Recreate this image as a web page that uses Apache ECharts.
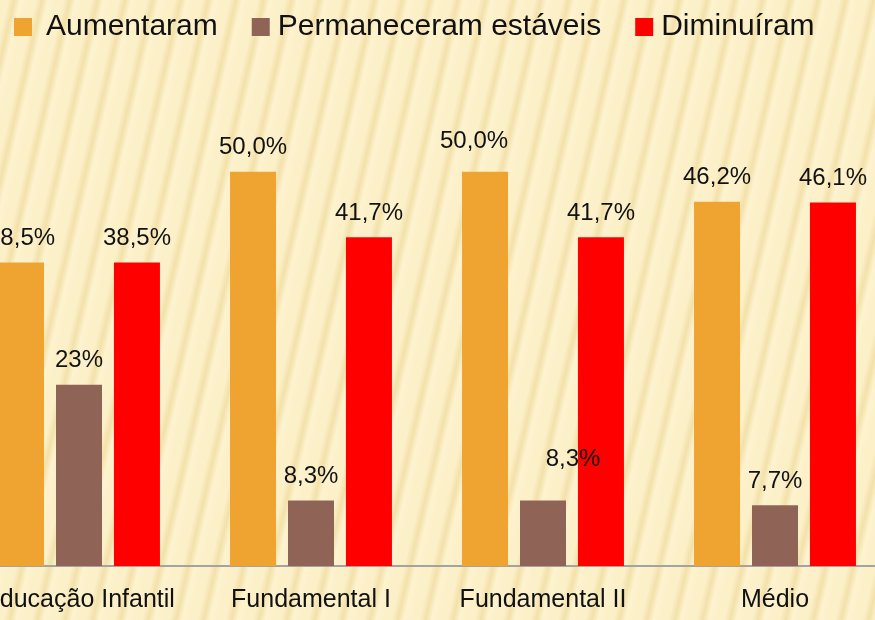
<!DOCTYPE html>
<html>
<head>
<meta charset="utf-8">
<script src="https://cdn.jsdelivr.net/npm/echarts@6/dist/echarts.min.js"></script>
<style>
  html, body { margin: 0; padding: 0; }
  #wrap {
    position: relative; overflow: hidden;
    width: 875px; height: 620px;
    background: repeating-linear-gradient(103deg, #fcf0c9 0px, #fcf0c9 8px, #f3e1aa 14px, #fdf3cf 20px, #fcf0c9 27px);
  }
  /* 图表比画布宽，左右两侧被裁掉 */
  #main { position: absolute; left: -37px; top: 0; width: 928px; height: 620px; }
</style>
</head>
<body>
<div id="wrap"><div id="main"></div></div>
<script>
// 类别与数据
let categories = ['Educação Infantil', 'Fundamental I', 'Fundamental II', 'Médio'];
let aumentaram = [38.5, 50.0, 50.0, 46.2];
let estaveis = [23, 8.3, 8.3, 7.7];
let diminuiram = [38.5, 41.7, 41.7, 46.1];
let labelsAum = ['38,5%', '50,0%', '50,0%', '46,2%'];
let labelsEst = ['23%', '8,3%', '8,3%', '7,7%'];
let labelsDim = ['38,5%', '41,7%', '41,7%', '46,1%'];

let myChart = echarts.init(document.getElementById('main'));

// 组装数据项，个别标签有偏移
function buildData(values, labels, offsets) {
    let arr = [];
    for (let i = 0; i < values.length; i++) {
        let item = { value: values[i], labelText: labels[i] };
        if (offsets && offsets[i]) {
            item.label = { offset: offsets[i] };
        }
        arr.push(item);
    }
    return arr;
}

let labelStyle = {
    show: true,
    position: 'top',
    distance: 12,
    fontFamily: 'Liberation Sans',
    fontSize: 24,
    color: '#111',
    formatter: function (p) { return p.data.labelText; }
};

let option = {
    animation: false,
    backgroundColor: 'transparent',
    legend: {
        left: 46,
        top: 7,
        icon: 'rect',
        itemWidth: 18,
        itemHeight: 18,
        itemGap: 34,
        textStyle: {
            fontFamily: 'Liberation Sans',
            fontSize: 30,
            color: '#111',
            padding: [0, 0, 0, 3]
        },
        data: [
            { name: 'Aumentaram', textStyle: { padding: [0, 0, 0, 9] } },
            { name: 'Permaneceram estáveis', textStyle: { padding: [0, 8, 0, 3] } },
            { name: 'Diminuíram' }
        ]
    },
    grid: {
        left: 0,
        right: 0,
        top: 93,
        bottom: 54
    },
    xAxis: {
        type: 'category',
        data: categories,
        axisTick: { show: false },
        axisLine: { lineStyle: { color: '#a3a3a3', width: 2 } },
        axisLabel: {
            interval: 0,
            fontFamily: 'Liberation Sans',
            fontSize: 25,
            color: '#111',
            margin: 22
        }
    },
    yAxis: {
        type: 'value',
        min: 0,
        max: 60,
        show: false,
        splitLine: { show: false }
    },
    series: [
        {
            name: 'Aumentaram',
            type: 'bar',
            barWidth: 46,
            barGap: '26%',
            itemStyle: { color: '#efa331' },
            label: labelStyle,
            data: buildData(aumentaram, labelsAum, [null, null, [-11, -6], null])
        },
        {
            name: 'Permaneceram estáveis',
            type: 'bar',
            barWidth: 46,
            barGap: '26%',
            itemStyle: { color: '#8f6456' },
            label: labelStyle,
            data: buildData(estaveis, labelsEst, [null, null, [30, -17], null])
        },
        {
            name: 'Diminuíram',
            type: 'bar',
            barWidth: 46,
            barGap: '26%',
            itemStyle: { color: '#ff0000' },
            label: labelStyle,
            data: buildData(diminuiram, labelsDim)
        }
    ]
};
myChart.setOption(option);
</script>
</body>
</html>
